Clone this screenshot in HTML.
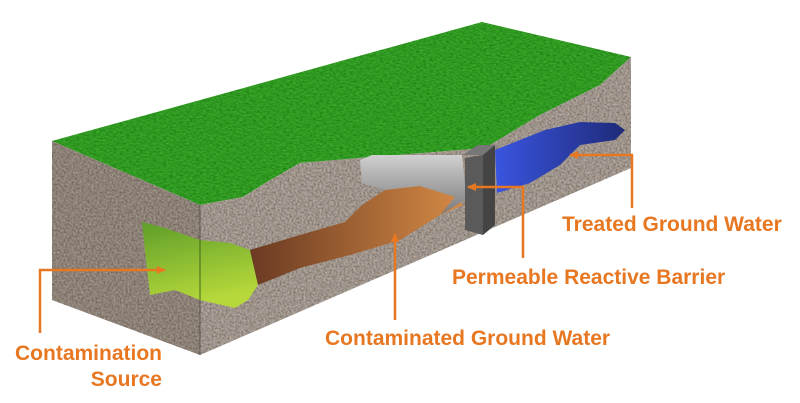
<!DOCTYPE html>
<html><head><meta charset="utf-8"><style>
html,body{margin:0;padding:0;background:#fff;width:800px;height:403px;overflow:hidden}
svg{display:block}
text{font-family:"Liberation Sans",sans-serif;font-weight:bold;fill:#e87722;font-size:21px}
</style></head><body>
<svg width="800" height="403" viewBox="0 0 800 403">
<defs>
<filter id="soil" x="0" y="0" width="100%" height="100%">
<feTurbulence type="fractalNoise" baseFrequency="0.5" numOctaves="2" seed="3"/>
<feColorMatrix type="matrix" values="0 0 0 0 0.5  0 0 0 0 0.46  0 0 0 0 0.42  2 0 0 0 -0.5"/>
<feComposite in2="SourceGraphic" operator="in"/>
<feBlend in2="SourceGraphic" mode="multiply"/>
</filter>
<filter id="grass" x="0" y="0" width="100%" height="100%">
<feTurbulence type="fractalNoise" baseFrequency="0.3 0.6" numOctaves="2" seed="7"/>
<feColorMatrix type="matrix" values="0 0 0 0 0.1  0 0 0 0 0.45  0 0 0 0 0.05  1.4 0 0 0 -0.35"/>
<feComposite in2="SourceGraphic" operator="in"/>
<feBlend in2="SourceGraphic" mode="multiply"/>
</filter>
<linearGradient id="gsrc" x1="0" y1="0" x2="0.3" y2="1"><stop offset="0" stop-color="#5e9e2a"/><stop offset="1" stop-color="#b6d83a"/></linearGradient>
<linearGradient id="brown" x1="0" y1="0" x2="1" y2="0"><stop offset="0" stop-color="#6a3a22"/><stop offset="1" stop-color="#d58a45"/></linearGradient>
<linearGradient id="blue" x1="0" y1="0" x2="1" y2="0"><stop offset="0" stop-color="#3a55e0"/><stop offset="1" stop-color="#1e2a78"/></linearGradient>
<linearGradient id="gray" x1="0" y1="0" x2="0" y2="1"><stop offset="0" stop-color="#d0d0d0"/><stop offset="1" stop-color="#7a7a7a"/></linearGradient>
<marker id="ar" markerUnits="userSpaceOnUse" markerWidth="9" markerHeight="8" refX="8" refY="4" orient="auto"><path d="M0,0 L9,4 L0,8 z" fill="#e87722"/></marker>
</defs>
<path d="M52,141 L482,22 L631,57 L600,85 L540,115 L485,148 L360,158 L300,163 L267,182 L243,197 L200,205 Z" fill="#3aa82a" filter="url(#grass)"/>
<path d="M52,141 L200,205 L200,355 L52,300 Z" fill="#a0958b" filter="url(#soil)"/>
<path d="M200,205 L243,197 L267,182 L300,163 L360,158 L485,148 L540,115 L600,85 L631,57 L631,168 L200,355 Z" fill="#b3aaa2" filter="url(#soil)"/>
<line x1="200" y1="205" x2="200" y2="355" stroke="#555" stroke-width="1"/>
<path d="M142,222 L165,228 L200,240 L230,243 L250,250 L258,285 L248,300 L235,308 L200,300 L175,290 L150,295 L146,260 Z" fill="url(#gsrc)"/>
<line x1="200" y1="240" x2="200" y2="300" stroke="#3d6a1a" stroke-width="1"/>
<path d="M250,250 L300,235 L345,222 L362,205 L385,190 L420,185 L455,195 L463,205 L440,215 L400,240 L350,255 L300,268 L258,285 Z" fill="url(#brown)"/>
<path d="M360,160 L372,155 L462,155 L465,185 L465,200 L440,215 L455,197 L420,186 L385,190 L362,183 Z" fill="url(#gray)"/>
<path d="M462,155 L478,145 L495,145 L483,155 Z" fill="#777"/>
<path d="M483,155 L495,145 L495,225 L483,235 Z" fill="#444"/>
<path d="M465,158 L483,155 L483,235 L465,230 Z" fill="#5a5a5a"/>
<path d="M495,150 L520,140 L545,130 L580,122 L615,123 L625,130 L615,140 L580,145 L560,165 L530,183 L497,193 Z" fill="url(#blue)"/>
<g stroke="#e87722" stroke-width="2.5" fill="none">
<polyline points="40,333 40,270 165,270" marker-end="url(#ar)"/>
<polyline points="395,320 395,234" marker-end="url(#ar)"/>
<polyline points="523,258 523,187 468,187" marker-end="url(#ar)"/>
<polyline points="632,208 632,155 570,155" marker-end="url(#ar)"/>
</g>
<text x="15" y="360">Contamination</text>
<text x="162" y="386" text-anchor="end">Source</text>
<text x="325" y="345">Contaminated Ground Water</text>
<text x="452" y="284">Permeable Reactive Barrier</text>
<text x="562" y="231">Treated Ground Water</text>
</svg>
</body></html>
